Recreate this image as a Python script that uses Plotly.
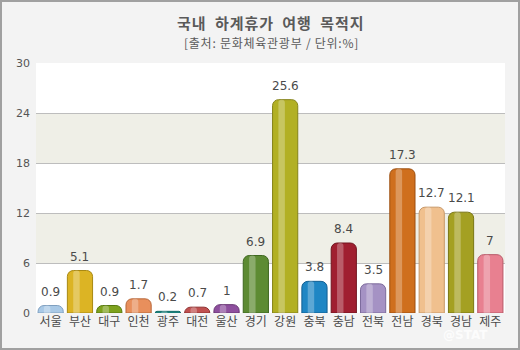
import plotly.graph_objects as go

regions = ["서울", "부산", "대구", "인천", "광주", "대전", "울산", "경기",
           "강원", "충북", "충남", "전북", "전남", "경북", "경남", "제주"]
shares = [0.9, 5.1, 0.9, 1.7, 0.2, 0.7, 1, 6.9,
          25.6, 3.8, 8.4, 3.5, 17.3, 12.7, 12.1, 7]
bar_colors = ["#a9c9e6", "#dcb424", "#7ea21e", "#e88f5c", "#1f918c", "#c0504f",
              "#8e4f9e", "#5d8b33", "#b2b024", "#1f86c4", "#a01f30", "#a592c4",
              "#cf6f1d", "#f0c08e", "#a4a022", "#e88090"]
edge_colors = ["#7f9fbf", "#a88812", "#56780f", "#b8683a", "#126a66", "#8e3030",
               "#663472", "#3f6820", "#85831a", "#135f92", "#70141f", "#7c6a9c",
               "#9c4f10", "#c89868", "#7a7614", "#b85868"]
y_ticks = [0, 6, 12, 18, 24, 30]
title_text = "국내 하계휴가 여행 목적지"
subtitle_text = "[출처: 문화체육관광부 / 단위:%]"

W, H = 520, 350
ML, MR, MT, MB = 36, 15, 63, 37
PW, PH = W - ML - MR, H - MT - MB


def spread(text, gap, space):
    """Insert a small space between characters to widen the tracking."""
    return gap.join(ch if ch != " " else space for ch in text)


fig = go.Figure()
fig.add_trace(go.Bar(
    x=list(range(len(regions))), y=shares,
    width=0.86,
    marker=dict(color=bar_colors, line=dict(color=edge_colors, width=1),
                cornerradius=6),
    hoverinfo="skip",
))
# soft highlight stripe on each bar for a rounded look
fig.add_trace(go.Bar(
    x=[i - 0.12 for i in range(len(regions))], y=shares,
    width=0.22,
    marker=dict(color="rgba(255,255,255,0.28)", line=dict(width=0), cornerradius=3),
    hoverinfo="skip",
))

shapes = []
# alternating background bands
for lo, hi in [(6, 12), (18, 24)]:
    shapes.append(dict(type="rect", xref="paper", yref="y", x0=0, x1=1, y0=lo, y1=hi,
                       fillcolor="#efefe7", line=dict(width=0), layer="below"))
# outer frame
shapes.append(dict(type="rect", xref="paper", yref="paper",
                   x0=(1 - ML) / PW, x1=(W - ML - 1) / PW,
                   y0=-(MB - 1) / PH, y1=(H - MB - 1) / PH,
                   line=dict(color="#a0a0a0", width=2), fillcolor="rgba(0,0,0,0)"))

annotations = []
for i, v in enumerate(shares):
    annotations.append(dict(x=i, y=v, text=f"{v:g}", showarrow=False,
                            yanchor="bottom", yshift=5,
                            font=dict(family="DejaVu Sans", size=12, color="#4a4a4a")))
annotations.append(dict(x=0.5, xref="paper", y=(H - 22 - MB) / PH, yref="paper",
                        text="<b>" + spread(title_text, "\u200a", "\u2002") + "</b>",
                        showarrow=False, yanchor="middle",
                        font=dict(family="Noto Sans CJK KR", size=15, color="#5a5a5a")))
annotations.append(dict(x=0.5, xref="paper", y=(H - 43 - MB) / PH, yref="paper",
                        text=spread(subtitle_text, "\u200a", " "), showarrow=False,
                        yanchor="middle",
                        font=dict(family="Noto Sans CJK KR", size=12, color="#5a5a5a")))
annotations.append(dict(x=(490 - ML) / PW, xref="paper", y=-(335 - H + MB) / PH, yref="paper",
                        text="<b>@STAT</b>", showarrow=False, yanchor="middle",
                        font=dict(family="DejaVu Sans", size=12, color="rgba(255,255,255,0.8)")))

fig.update_layout(
    width=W, height=H,
    margin=dict(l=ML, r=MR, t=MT, b=MB),
    paper_bgcolor="#f3f3f3", plot_bgcolor="#ffffff",
    barmode="overlay", showlegend=False,
    shapes=shapes, annotations=annotations,
    xaxis=dict(tickmode="array", tickvals=list(range(len(regions))), ticktext=regions,
               range=[-0.5, len(regions) - 0.5], showgrid=False, zeroline=False,
               ticks="", tickfont=dict(family="Noto Sans CJK KR", size=12, color="#4a4a4a")),
    yaxis=dict(range=[0, 30], tickvals=y_ticks, showgrid=True, gridcolor="#bdbdbd",
               gridwidth=1, zeroline=False, ticks="", ticklen=0, ticklabelstandoff=5,
               tickfont=dict(family="DejaVu Sans", size=11, color="#555555")),
)
fig.update_traces(cliponaxis=False)
fig.write_html("out.html")
